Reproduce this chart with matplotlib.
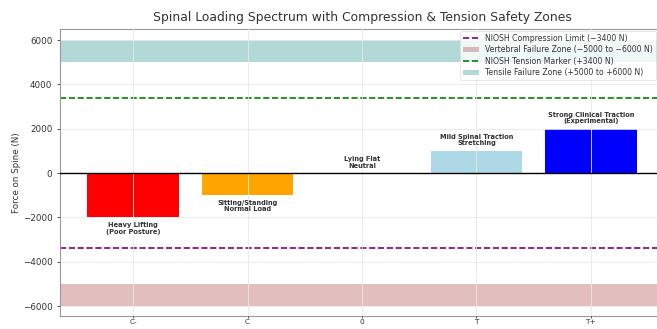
import matplotlib
matplotlib.use("Agg")
import matplotlib.pyplot as plt
from matplotlib.patches import Patch
from matplotlib.lines import Line2D

# Loading categories and net force on the spine (negative = compression)
categories = ["C-", "C", "0", "T", "T+"]
forces = [-2000, -1000, 0, 1000, 2000]
bar_colors = ["red", "orange", "lightgray", "lightblue", "blue"]
descriptions = [
    "Heavy Lifting\n(Poor Posture)",
    "Sitting/Standing\nNormal Load",
    "Lying Flat\nNeutral",
    "Mild Spinal Traction\nStretching",
    "Strong Clinical Traction\n(Experimental)",
]

niosh_compression = -3400
niosh_tension = 3400
vertebral_zone = (-6000, -5000)
tensile_zone = (5000, 6000)

W, H = 657, 329
fig = plt.figure(figsize=(W / 100, H / 100), dpi=100)
left, right, top, bottom = 60, 664, 29, 316
ax = fig.add_axes([left / W, 1 - bottom / H, (right - left) / W, (bottom - top) / H])

x = list(range(len(categories)))
ax.bar(x, forces, width=0.8, color=bar_colors, zorder=1)

ax.axhspan(*vertebral_zone, color="brown", alpha=0.3, lw=0, zorder=0)
ax.axhspan(*tensile_zone, color="teal", alpha=0.3, lw=0, zorder=0)
ax.axhline(niosh_compression, color="purple", ls="--", lw=1.2, zorder=2)
ax.axhline(niosh_tension, color="green", ls="--", lw=1.2, zorder=2)
ax.axhline(0, color="black", lw=1.0, zorder=3)

for xi, f, d in zip(x, forces, descriptions):
    if f < 0:
        ax.text(xi, f - 200, d, ha="center", va="top", fontsize=4.8,
                fontweight="bold", color="#333333", zorder=4,
                linespacing=1.15)
    else:
        ax.text(xi, f + 200, d, ha="center", va="bottom", fontsize=4.8,
                fontweight="bold", color="#333333", zorder=4,
                linespacing=1.15)

ax.set_xticks(x)
ax.set_xticklabels(categories, fontsize=5.3, color="#333333")
ax.set_xlim(-0.64, 4.64)
ax.set_ylim(-6450, 6500)
ax.set_yticks([-6000, -4000, -2000, 0, 2000, 4000, 6000])
ax.tick_params(axis="y", labelsize=6.3, colors="#333333", length=2, width=0.6)
ax.tick_params(axis="x", length=1.5, width=0.6, colors="#333333", pad=0.4)
ax.set_ylabel("Force on Spine (N)", fontsize=6.3, color="#333333", labelpad=1)
ax.set_title("Spinal Loading Spectrum with Compression & Tension Safety Zones",
             fontsize=8.9, color="#333333", pad=6)

ax.grid(True, color="#e8e8e8", lw=0.6, zorder=5)
ax.set_axisbelow(False)
for s in ax.spines.values():
    s.set_color("#999999")
    s.set_linewidth(0.8)

handles = [
    Line2D([0], [0], color="purple", ls="--", lw=1.2),
    Patch(color="brown", alpha=0.3, lw=0),
    Line2D([0], [0], color="green", ls="--", lw=1.2),
    Patch(color="teal", alpha=0.3, lw=0),
]
labels = [
    "NIOSH Compression Limit (\u22123400 N)",
    "Vertebral Failure Zone (\u22125000 to \u22126000 N)",
    "NIOSH Tension Marker (+3400 N)",
    "Tensile Failure Zone (+5000 to +6000 N)",
]
leg = ax.legend(handles, labels, loc="upper right", fontsize=5.6, frameon=True,
                framealpha=0.8, edgecolor="#dddddd", borderpad=0.4,
                labelspacing=0.3, handlelength=2.0, handletextpad=0.8,
                bbox_to_anchor=(656 / W, 1 - 31 / H),
                bbox_transform=fig.transFigure, borderaxespad=0)
leg.get_frame().set_linewidth(0.6)
for t in leg.get_texts():
    t.set_color("#333333")

fig.savefig("out.png", dpi=100)
